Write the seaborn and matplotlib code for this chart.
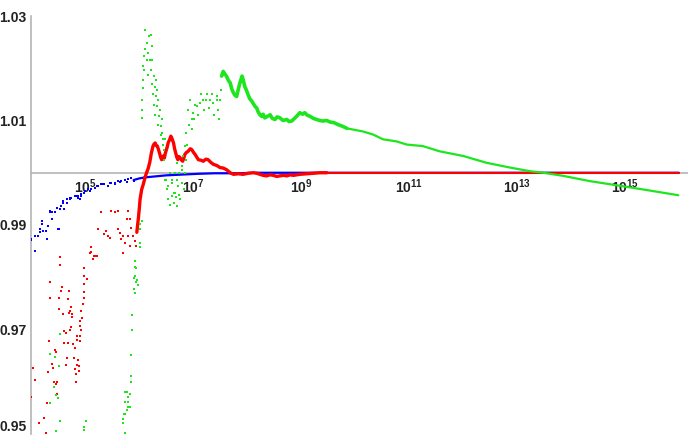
import numpy as np
import pandas as pd
import seaborn as sns
import matplotlib.pyplot as plt
from matplotlib.ticker import NullLocator

# exponents (log10 x) and ratio values
blue_pts_e = [4.00, 4.00, 4.07, 4.07, 4.08, 4.13, 4.16, 4.17, 4.20, 4.20, 4.22, 4.28, 4.29,
              4.31, 4.35, 4.36, 4.39, 4.39, 4.44, 4.48, 4.50, 4.51, 4.53, 4.56, 4.59, 4.60,
              4.62, 4.66, 4.67, 4.72, 4.72, 4.75, 4.81, 4.85, 4.87, 4.87, 4.90, 4.93, 4.93,
              4.99, 5.00, 5.06, 5.09, 5.12, 5.18, 5.22, 5.24, 5.30, 5.34, 5.36, 5.43, 5.46,
              5.49, 5.55, 5.56, 5.61, 5.65, 5.67, 5.74, 5.77, 5.80, 5.86, 5.90]
blue_pts_y = [0.9871, 0.9873, 0.9850, 0.9850, 0.9879, 0.9879, 0.9887, 0.9892, 0.9901, 0.9908,
              0.9888, 0.9889, 0.9873, 0.9898, 0.9924, 0.9927, 0.9911, 0.9925, 0.9924, 0.9933,
              0.9892, 0.9892, 0.9930, 0.9936, 0.9946, 0.9943, 0.9930, 0.9949, 0.9943, 0.9949,
              0.9952, 0.9952, 0.9955, 0.9955, 0.9955, 0.9951, 0.9949, 0.9959, 0.9955, 0.9962,
              0.9965, 0.9968, 0.9966, 0.9968, 0.9971, 0.9974, 0.9974, 0.9978, 0.9978, 0.9978,
              0.9974, 0.9980, 0.9981, 0.9981, 0.9978, 0.9984, 0.9982, 0.9984, 0.9987, 0.9982,
              0.9988, 0.9989, 0.9985]
blue_line_e = [5.90, 6.00, 6.10, 6.30, 6.50, 6.70, 6.90, 7.10, 7.40, 7.80, 8.20, 8.60,
               9.00, 10.0, 12.0, 14.0, 16.0]
blue_line_y = [0.9986, 0.9989, 0.9991, 0.9993, 0.9995, 0.9996, 0.9997, 0.9998, 0.9999,
               0.9999, 1.0000, 1.0000, 1.0000, 1.0000, 1.0000, 1.0000, 1.0000]

red_pts_e = [4.53, 4.54, 5.11, 5.17, 5.22, 5.14, 5.70, 4.98, 4.36, 4.99, 5.03, 4.98, 4.57,
             4.56, 4.70, 4.98, 4.35, 4.51, 4.69, 4.98, 4.97, 4.75, 4.51, 4.72, 4.93, 4.70,
             4.76, 4.59, 4.76, 4.95, 4.91, 4.91, 4.74, 4.73, 4.93, 4.62, 4.64, 4.85, 4.91,
             4.85, 4.91, 4.33, 4.69, 4.78, 4.61, 4.81, 4.44, 4.46, 4.67, 4.79, 4.87, 4.86,
             4.89, 4.65, 4.39, 4.40, 4.04, 4.81, 4.88, 4.83, 4.31, 4.07, 4.43, 4.49, 4.47,
             4.83, 4.00, 4.48, 4.29, 4.24, 4.14, 4.27,
             5.30, 5.39, 5.49, 5.55, 5.61, 5.80, 5.78, 5.83, 5.24, 5.36, 5.43, 5.46, 5.61,
             5.64, 5.70, 5.67, 5.74, 5.86, 5.89, 5.92, 5.95, 5.83, 5.80, 5.12, 5.09, 5.18,
             4.99]
red_pts_y = [0.9838, 0.9823, 0.9848, 0.9841, 0.9841, 0.9834, 0.9847, 0.9817, 0.9791, 0.9802,
             0.9796, 0.9787, 0.9781, 0.9774, 0.9773, 0.9771, 0.9760, 0.9760, 0.9758, 0.9760,
             0.9748, 0.9744, 0.9740, 0.9736, 0.9736, 0.9731, 0.9729, 0.9730, 0.9724, 0.9722,
             0.9717, 0.9707, 0.9704, 0.9700, 0.9699, 0.9697, 0.9693, 0.9687, 0.9688, 0.9680,
             0.9678, 0.9678, 0.9674, 0.9672, 0.9674, 0.9664, 0.9661, 0.9657, 0.9645, 0.9645,
             0.9641, 0.9632, 0.9630, 0.9632, 0.9634, 0.9626, 0.9626, 0.9624, 0.9621, 0.9615,
             0.9619, 0.9604, 0.9599, 0.9600, 0.9596, 0.9600, 0.9571, 0.9577, 0.9560, 0.9530,
             0.9521, 0.9501,
             0.9925, 0.9889, 0.9927, 0.9925, 0.9927, 0.9927, 0.9912, 0.9911, 0.9892, 0.9882,
             0.9879, 0.9876, 0.9892, 0.9885, 0.9879, 0.9873, 0.9866, 0.9895, 0.9879, 0.9869,
             0.9860, 0.9860, 0.9879, 0.9857, 0.9847, 0.9841, 0.9818]
# dense (jittery) part of the red curve, then the flat tail
red_dense_e = [5.96, 5.99, 6.01, 6.02, 6.05, 6.08, 6.11, 6.14, 6.17, 6.20, 6.23, 6.26, 6.28,
               6.30, 6.32, 6.34, 6.36, 6.38, 6.40, 6.42, 6.45, 6.47, 6.49, 6.52, 6.54, 6.57,
               6.59, 6.61, 6.64, 6.66, 6.68, 6.70, 6.72, 6.74, 6.76, 6.79, 6.81, 6.83, 6.85,
               6.88, 6.91, 6.95, 6.98, 7.01, 7.04, 7.07, 7.10, 7.15, 7.19, 7.24, 7.28, 7.33,
               7.38, 7.44, 7.50, 7.56, 7.62, 7.69, 7.75, 7.84, 7.93, 8.02, 8.12, 8.18, 8.24,
               8.30, 8.36, 8.43, 8.49, 8.55, 8.61, 8.68, 8.74, 8.80, 8.86, 8.92, 8.98, 9.10,
               9.23, 9.35, 9.48]
red_dense_y = [0.9886, 0.9914, 0.9936, 0.9949, 0.9968, 0.9978, 0.9990, 1.0000, 1.0008, 1.0020,
               1.0038, 1.0051, 1.0055, 1.0057, 1.0052, 1.0051, 1.0045, 1.0038, 1.0030, 1.0025,
               1.0032, 1.0028, 1.0038, 1.0048, 1.0057, 1.0064, 1.0070, 1.0066, 1.0057, 1.0046,
               1.0038, 1.0030, 1.0025, 1.0031, 1.0029, 1.0024, 1.0022, 1.0028, 1.0035, 1.0039,
               1.0041, 1.0046, 1.0044, 1.0039, 1.0035, 1.0030, 1.0025, 1.0024, 1.0022, 1.0026,
               1.0025, 1.0020, 1.0016, 1.0014, 1.0010, 1.0009, 1.0006, 1.0000, 0.9997, 0.9998,
               0.9997, 0.9999, 1.0000, 0.9999, 0.9997, 0.9995, 0.9994, 0.9996, 0.9995, 0.9993,
               0.9994, 0.9995, 0.9994, 0.9996, 0.9995, 0.9996, 0.9997, 0.9998, 0.9999, 1.0000,
               1.0000]
red_tail_e = [9.48, 10.0, 12.0, 14.0, 16.0]
red_tail_y = [1.0000, 1.0000, 1.0000, 1.0000, 1.0000]

green_pts_e = [5.93, 5.92, 5.95, 5.91, 5.96, 5.98, 5.91, 5.93, 5.88, 5.87, 5.86, 5.86, 5.85,
               5.77, 5.83, 5.80, 5.74, 5.83, 5.77, 5.74, 5.71, 5.70, 5.74, 4.54, 4.35, 4.44,
               4.51, 4.43, 4.46, 4.50, 4.36, 4.54, 5.02, 4.98, 4.47, 4.99,
               6.02, 6.01, 5.93, 5.94, 6.05, 6.02, 6.01, 5.80, 5.74, 5.80, 5.72,
               6.05, 6.07, 6.08, 6.09, 6.12, 6.14, 6.17, 6.19, 6.22, 6.24, 6.25, 6.28, 6.30,
               6.31, 6.34, 6.38, 6.40, 6.43, 6.45, 6.47, 6.50, 6.51, 6.54, 6.57, 6.61, 6.64,
               6.67, 6.70, 6.74, 6.79, 6.82, 6.85, 6.88, 6.91, 6.94, 6.98, 7.01, 7.07, 7.13,
               7.19, 7.25, 7.31, 7.38, 7.44, 7.47, 7.50,
               6.48, 6.51, 6.54, 6.57, 6.61, 6.67, 6.70, 6.73, 6.76, 6.79, 6.85,
               6.06, 6.06, 6.07, 6.10, 6.11, 6.15, 6.16, 6.20, 6.22, 6.24, 6.26, 6.28, 6.30,
               6.31, 6.33, 6.35, 6.36, 6.39, 6.41, 6.43, 6.45, 6.46, 6.48,
               6.98, 7.02, 7.04, 7.09, 7.15, 7.21, 7.26, 7.30, 7.35, 7.39, 7.45, 7.48, 7.52,
               6.61, 6.65, 6.71, 6.74, 6.80, 6.83, 6.87, 6.89, 6.93, 6.69]
green_pts_y = [0.9831, 0.9820, 0.9818, 0.9799, 0.9795, 0.9785, 0.9777, 0.9769, 0.9728, 0.9699,
               0.9651, 0.9611, 0.9600, 0.9581, 0.9577, 0.9562, 0.9561, 0.9552, 0.9545, 0.9538,
               0.9529, 0.9522, 0.9502, 0.9692, 0.9654, 0.9647, 0.9631, 0.9589, 0.9575, 0.9569,
               0.9560, 0.9525, 0.9524, 0.9513, 0.9506, 0.9508,
               0.9866, 0.9857, 0.9802, 0.9790, 0.9908, 0.9901, 0.9892, 0.9570, 0.9580, 0.9551,
               0.9538,
               1.0105, 1.0162, 1.0204, 1.0223, 1.0274, 1.0248, 1.0229, 1.0261, 1.0264, 1.0242,
               1.0216, 1.0185, 1.0165, 1.0146, 1.0127, 1.0108, 1.0089, 1.0076, 1.0064, 1.0025,
               0.9987, 0.9968, 0.9974, 1.0000, 0.9987, 0.9962, 1.0000, 1.0019, 1.0000, 1.0013,
               1.0032, 1.0051, 1.0076, 1.0121, 1.0140, 1.0102, 1.0115, 1.0127, 1.0134, 1.0140,
               1.0140, 1.0140, 1.0134, 1.0140, 1.0121, 1.0140,
               0.9987, 0.9968, 0.9949, 0.9939, 0.9955, 0.9962, 0.9936, 0.9974, 0.9949, 0.9981,
               1.0000,
               1.0140, 1.0121, 1.0178, 1.0197, 1.0236, 1.0216, 1.0188, 1.0216, 1.0197, 1.0169,
               1.0150, 1.0130, 1.0111, 1.0178, 1.0159, 1.0140, 1.0092, 1.0121, 1.0073, 1.0102,
               1.0054, 1.0044, 1.0064,
               1.0083, 1.0102, 1.0130, 1.0111, 1.0150, 1.0121, 1.0150, 1.0124, 1.0150, 1.0111,
               1.0146, 1.0102, 1.0159,
               0.9981, 0.9943, 0.9987, 0.9958, 1.0006, 0.9968, 1.0025, 1.0054, 1.0092, 0.9953]
green_dense_e = [7.53, 7.56, 7.59, 7.62, 7.66, 7.69, 7.72, 7.75, 7.78, 7.81, 7.84, 7.87, 7.91,
                 7.93, 7.96, 7.99, 8.02, 8.05, 8.09, 8.12, 8.15, 8.18, 8.21, 8.24, 8.27, 8.30,
                 8.33, 8.38, 8.43, 8.47, 8.52, 8.56, 8.61, 8.67, 8.74, 8.78, 8.83, 8.88, 8.92,
                 8.98, 9.03, 9.07, 9.12, 9.17, 9.23, 9.29, 9.35, 9.41, 9.48, 9.54, 9.61, 9.69,
                 9.77, 9.85]
green_dense_y = [1.0185, 1.0194, 1.0189, 1.0185, 1.0176, 1.0172, 1.0160, 1.0153, 1.0148, 1.0146,
                 1.0160, 1.0172, 1.0185, 1.0178, 1.0165, 1.0158, 1.0150, 1.0142, 1.0137, 1.0132,
                 1.0127, 1.0124, 1.0116, 1.0111, 1.0108, 1.0112, 1.0105, 1.0108, 1.0111, 1.0104,
                 1.0102, 1.0107, 1.0105, 1.0100, 1.0102, 1.0098, 1.0099, 1.0104, 1.0108, 1.0115,
                 1.0112, 1.0115, 1.0110, 1.0108, 1.0104, 1.0102, 1.0100, 1.0099, 1.0100, 1.0097,
                 1.0096, 1.0092, 1.0089, 1.0085]
green_tail_e = [9.85, 10.15, 10.34, 10.52, 10.77, 10.96, 11.26, 11.57, 12.01, 12.44, 12.87,
                13.24, 13.49, 13.86, 14.35, 14.85, 15.34, 15.99]
green_tail_y = [1.0085, 1.0079, 1.0073, 1.0064, 1.0060, 1.0054, 1.0051, 1.0041, 1.0032, 1.0019,
                1.0010, 1.0003, 1.0000, 0.9994, 0.9984, 0.9976, 0.9968, 0.9957]

x_ticks = [5, 7, 9, 11, 13, 15]
y_ticks = [0.95, 0.97, 0.99, 1.01, 1.03]

BLUE, RED, GREEN = "#0000ff", "#ff0000", "#1ee61e"
AXIS_GRAY = "#b4b4b4"

sns.set_style("white")
plt.rcParams['font.family'] = ['Liberation Sans', 'DejaVu Sans']
plt.rcParams['mathtext.fontset'] = 'custom'
plt.rcParams['mathtext.rm'] = 'Liberation Sans:bold'
plt.rcParams['mathtext.bf'] = 'Liberation Sans:bold'
plt.rcParams['mathtext.it'] = 'Liberation Sans:bold'

fig = plt.figure(figsize=(6.88, 4.38), dpi=100)
ax = fig.add_axes([31 / 688, 4 / 438, 657 / 688, 418 / 438])


def pts(e, y, color):
    d = pd.DataFrame({"x": 10.0 ** np.array(e), "y": y})
    sns.scatterplot(data=d, x="x", y="y", color=color, s=4.5, marker="s",
                    linewidth=0, ax=ax, zorder=3)


def line(e, y, color, lw):
    d = pd.DataFrame({"x": 10.0 ** np.array(e), "y": y})
    sns.lineplot(data=d, x="x", y="y", color=color, lw=lw, sort=False,
                 estimator=None, ax=ax, zorder=3)


pts(blue_pts_e, blue_pts_y, BLUE)
line(blue_line_e, blue_line_y, BLUE, 1.6)
pts(red_pts_e, red_pts_y, RED)
line(red_dense_e, red_dense_y, RED, 2.4)
line(red_tail_e, red_tail_y, RED, 1.5)
pts(green_pts_e, green_pts_y, GREEN)
line(green_dense_e, green_dense_y, GREEN, 2.6)
line(green_tail_e, green_tail_y, GREEN, 1.6)

ax.set_xscale("log")
ax.set_xlim(1e4, 10 ** 16.17)
ax.set_ylim(0.95, 1.03)

for s in ["top", "right"]:
    ax.spines[s].set_visible(False)
ax.spines["bottom"].set_position(("data", 1.0))
for s in ["bottom", "left"]:
    ax.spines[s].set_color(AXIS_GRAY)
    ax.spines[s].set_linewidth(1.2)
    ax.spines[s].set_zorder(1)

ax.set_xticks([10.0 ** k for k in x_ticks])
ax.set_xticklabels([r"$\mathbf{10^{%d}}$" % k for k in x_ticks])
ax.xaxis.set_minor_locator(NullLocator())
ax.set_yticks(y_ticks)
ax.set_yticklabels(["%.2f" % v for v in y_ticks])
ax.tick_params(axis="both", direction="in", length=3, width=0.8, color=AXIS_GRAY,
               labelsize=10, labelcolor="#222222")
ax.tick_params(axis="x", pad=3)
ax.tick_params(axis="y", pad=3)
for t in ax.get_yticklabels():
    t.set_fontweight("bold")
# keep the bottom label inside the canvas
ax.get_yticklabels()[0].set_verticalalignment("bottom")
ax.set_xlabel("")
ax.set_ylabel("")

fig.savefig("out.png", dpi=100)
